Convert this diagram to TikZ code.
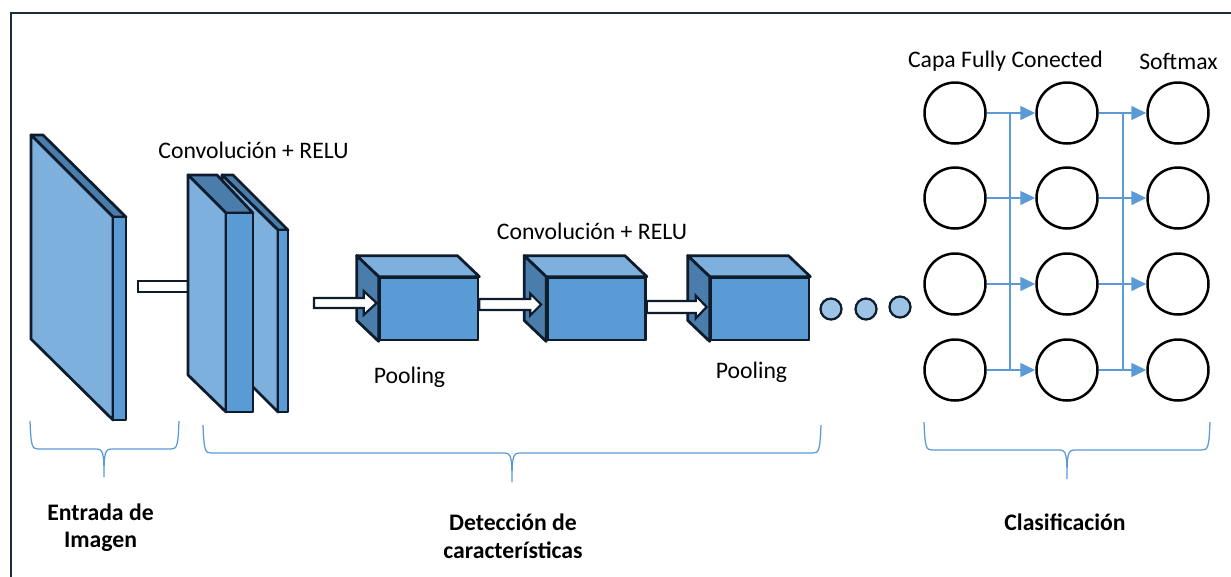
\documentclass[tikz,border=0pt]{standalone}
\usepackage{fontspec}
\setmainfont{Carlito}
\usetikzlibrary{calc,arrows.meta}
\definecolor{facelight}{HTML}{7EB0DE}
\definecolor{facemid}{HTML}{5B9BD5}
\definecolor{facedark}{HTML}{4A7DAC}
\definecolor{edge}{HTML}{0F1C2B}
\definecolor{dotfill}{HTML}{9DC3E6}
\definecolor{linkblue}{HTML}{5B9BD5}
\definecolor{framec}{HTML}{1E2B3A}

% white block arrow: #1 tail, #2 tip (same height), shaft half width, head half width, head length
\newcommand\blockarrow[5]{%
  \draw[blockarrow] ($(#1)+(0,-#3)$) -- ($(#2)+(-#5,-#3)$) -- ($(#2)+(-#5,-#4)$) -- (#2)
    -- ($(#2)+(-#5,#4)$) -- ($(#2)+(-#5,#3)$) -- ($(#1)+(0,#3)$) -- cycle;}

% curly brace opening downwards: x1, x2, middle x, top y, bar y, tip y
\newcommand\groupbrace[6]{%
  \draw[brace] (#1,#4) .. controls (#1+1,#5-3) and (#1+2,#5) .. (#1+8,#5)
    -- (#3-8,#5) .. controls (#3-1,#5) and (#3,#5+3) .. (#3,#6)
    .. controls (#3,#5+3) and (#3+1,#5) .. (#3+8,#5)
    -- (#2-8,#5) .. controls (#2-2,#5) and (#2-1,#5-3) .. (#2,#4);}

\begin{document}
\begin{tikzpicture}[x=0.02cm,y=-0.02cm,
  solid3d/.style={draw=edge,line width=0.055cm,line join=round},
  light/.style={solid3d,fill=facelight},
  mid/.style={solid3d,fill=facemid},
  dark/.style={solid3d,fill=facedark},
  cubefront/.style={mid,rectangle,minimum width=1.96cm,minimum height=1.24cm,inner sep=0pt},
  blockarrow/.style={draw=edge,fill=white,line width=0.045cm,line join=miter},
  neuron/.style={circle,draw=black,line width=0.05cm,fill=white,minimum size=1.22cm,inner sep=0pt},
  dot/.style={circle,draw=edge,line width=0.045cm,fill=dotfill,minimum size=0.42cm,inner sep=0pt},
  link/.style={draw=linkblue,line width=0.03cm},
  linkarrow/.style={link,-{Triangle[length=0.3cm,width=0.28cm]}},
  brace/.style={draw=linkblue,line width=0.025cm},
  caption/.style={font=\fontsize{13.5}{16}\selectfont,anchor=base,inner sep=0pt},
  title/.style={font=\fontsize{13.5}{16}\selectfont\bfseries,anchor=base,inner sep=0pt},
  frameline/.style={draw=framec,line width=0.045cm}]

\clip (0,0) rectangle (1231,576);
\fill[white] (0,0) rectangle (1231,576);

% outer frame
\draw[frameline] (11,600) -- (11,13) -- (1250,13);

% input image slab
\draw[dark]  (31,135) -- (43,135) -- (126,217) -- (113,217) -- cycle;
\draw[light] (31,135) -- (113,217) -- (113,420) -- (31,339) -- cycle;
\draw[mid]   (113,217) -- (126,217) -- (126,420) -- (113,420) -- cycle;

% link from input to the convolution stack
\draw[blockarrow] (138,281) rectangle (188,292);

% convolution + RELU slabs (rear one first)
\draw[dark]  (222,175) -- (233,175) -- (288,230) -- (278,230) -- cycle;
\draw[light] (222,175) -- (278,230) -- (278,412) -- (222,356) -- cycle;
\draw[mid]   (278,230) -- (288,230) -- (288,412) -- (278,412) -- cycle;
\draw[dark]  (188,175) -- (217,175) -- (253,213) -- (226,213) -- cycle;
\draw[light] (188,175) -- (226,213) -- (226,412) -- (188,375) -- cycle;
\draw[mid]   (226,213) -- (253,213) -- (253,412) -- (226,412) -- cycle;

% pooling / convolution cubes
\foreach \n/\cx in {p1/429, p2/596.5, p3/760} {
  \node[cubefront] (\n) at (\cx,309) {};
  \draw[light] (\n.north west) -- ++(-22,-21) -- ($(\n.north east)+(-22,-21)$) -- (\n.north east) -- cycle;
  \draw[dark] (\n.north west) -- ++(-22,-21) -- ($(\n.south west)+(-22,-21)$) -- (\n.south west) -- cycle;
  \node[cubefront] at (\n) {};
}

% arrows between the cubes
\coordinate (a0) at (314,303);
\coordinate (t1) at ($(p1.west)+(-2,-6)$);
\coordinate (s2) at ($(p1.east)+(0,-4.5)$);
\coordinate (t2) at ($(p2.west)+(-5,-4.5)$);
\coordinate (s3) at ($(p2.east)+(0,-2)$);
\coordinate (t3) at ($(p3.west)+(-3,-2)$);
\blockarrow{a0}{t1}{5}{12}{13}
\blockarrow{s2}{t2}{5.5}{11}{11}
\blockarrow{s3}{t3}{6}{11.5}{11}

% ellipsis dots
\node[dot] (d1) at (831,309) {};
\node[dot] (d2) at (866,309) {};
\node[dot] (d3) at (900,307) {};

% fully connected and softmax layers
\foreach \r/\y in {1/113, 2/198, 3/284, 4/370} {
  \node[neuron] (a\r) at (955,\y) {};
  \node[neuron] (b\r) at (1067,\y) {};
  \node[neuron] (c\r) at (1178,\y) {};
}
\coordinate (bus1) at (1010,0);
\coordinate (bus2) at (1123,0);
\foreach \r in {1,...,4} {
  \draw[linkarrow] (a\r.east) -- (b\r.west);
  \draw[linkarrow] (b\r.east) -- (c\r.west);
}
\draw[link] (bus1 |- a1.east) -- (bus1 |- a4.east);
\draw[link] (bus2 |- b1.east) -- (bus2 |- b4.east);

% layer captions
\node[caption] (fc) at (1005.5,67) {Capa Fully Conected};
\node[caption] (sm) at (1178.5,69) {Softmax};
\node[caption] (cv1) at (253.5,158) {Convolución + RELU};
\node[caption] (cv2) at (592,239) {Convolución + RELU};
\node[caption] (pl1) at (409.5,383) {Pooling};
\node[caption] (pl2) at (751.5,378) {Pooling};

% stage braces and titles
\groupbrace{30}{179}{104}{421}{449}{477}
\groupbrace{203}{821}{512}{425}{453}{482}
\groupbrace{924}{1210}{1067}{422}{450}{479}
\node[title] (g1a) at (100.5,520) {Entrada de};
\node[title] (g1b) at (100.5,547) {Imagen};
\node[title] (g2a) at (513,530) {Detección de};
\node[title] (g2b) at (513,558) {características};
\node[title] (g3) at (1065,530) {Clasificación};
\end{tikzpicture}
\end{document}
